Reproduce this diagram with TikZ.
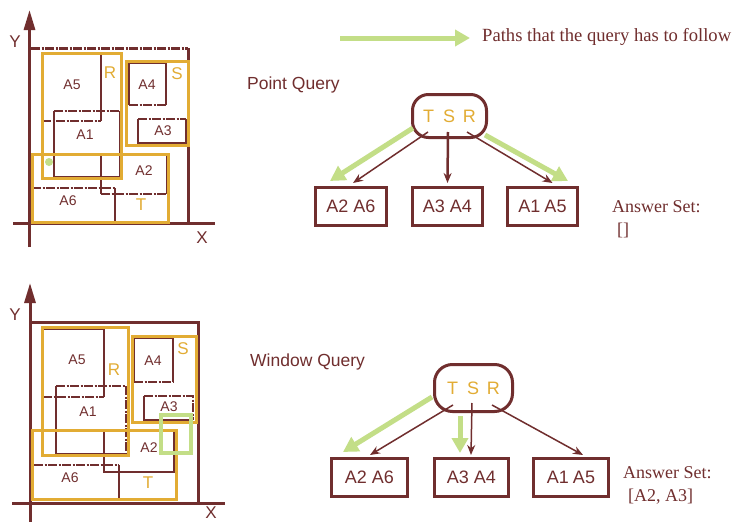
\documentclass[tikz,border=0pt]{standalone}
\usepackage{fontspec}
\setmainfont{Liberation Serif}
\setsansfont{Liberation Sans}
\usetikzlibrary{arrows.meta,calc}
\definecolor{maroon}{RGB}{112,46,46}
\definecolor{gold}{RGB}{226,172,52}
\definecolor{lgreen}{RGB}{195,222,135}
\tikzset{
  reg/.style={draw=maroon, line width=2pt},
  dd/.style={dash pattern=on 9pt off 1.5pt on 2pt off 1.5pt},
  mbr/.style={draw=gold, line width=3pt},
  axis/.style={draw=maroon, line width=3pt},
  axtip/.style={-{Triangle[length=20pt,width=11pt]}},
  lab/.style={text=maroon, inner sep=0pt, font=\sffamily\fontsize{14}{16}\selectfont},
  mlab/.style={text=gold, inner sep=0pt, font=\sffamily\fontsize{17}{19}\selectfont},
  axlab/.style={text=maroon, inner sep=0pt, font=\sffamily\fontsize{17}{19}\selectfont},
  qlab/.style={text=maroon, inner sep=0pt, anchor=west, font=\sffamily\fontsize{17.5}{19}\selectfont},
  serif/.style={text=maroon, inner sep=0pt, anchor=west, font=\rmfamily\fontsize{18}{20}\selectfont},
  tbox/.style={draw=maroon, line width=3pt, minimum height=38pt, inner sep=0pt,
               text=maroon, font=\sffamily\fontsize{18}{20}\selectfont},
  rootbox/.style={draw=maroon, line width=3pt, inner sep=0pt,
               text=gold, font=\sffamily\fontsize{18}{20}\selectfont},
  marr/.style={draw=maroon, line width=1.5pt, -{Stealth[length=10pt,width=8pt]}},
  garr/.style={draw=lgreen, line width=5pt, -{Triangle[length=15pt,width=16pt]}},
}
\begin{document}
\begin{tikzpicture}[x=1pt,y=-1pt]
\useasboundingbox (0,0) rectangle (732,522);
\fill[white] (0,0) rectangle (732,522);

% ---------------- legend ----------------
\coordinate (legA) at (340,38);
\coordinate (legB) at (470,38);
\draw[garr] (legA) -- (legB);
\node[serif, font=\rmfamily\fontsize{18.6}{20}\selectfont] (legtxt) at (482,37)
  {Paths that the query has to follow};

% ================= point query panel =================
% axes
\coordinate (tyA) at (29.5,247);
\coordinate (tyB) at (29.5,10);
\coordinate (txA) at (13,223.5);
\coordinate (txB) at (215,223.5);
\draw[axis,axtip] (tyA) -- (tyB);
\draw[axis] (txA) -- (txB);
\node[axlab] (tY) at (15,42) {Y};
\node[axlab] (tX) at (202,238) {X};
% data space
\draw[reg,line width=3pt,dd] (31,48) -- (188,48);
\draw[reg,line width=3pt] (188,48) -- (188,223.5);
% leaf regions
\draw[reg] (101,53) -- (101,121);
\draw[reg,dd] (42,121) -- (101,121);
\draw[reg,dd] (54,111) -- (120,111);
\draw[reg] (54,111) -- (54,177) -- (120,177) -- (120,111);
\draw[reg] (129,105) -- (129,63) -- (166,63) -- (166,105);
\draw[reg,dd] (129,105) -- (166,105);
\draw[reg,dd] (138,119) -- (186,119);
\draw[reg] (138,119) -- (138,143) -- (186,143) -- (186,119);
\draw[reg] (101,154) -- (101,194);
\draw[reg,dd] (101,194) -- (167,194);
\draw[reg] (101,154) -- (167,154) -- (167,194);
\draw[reg,dd] (32,188) -- (115,188);
\draw[reg] (115,188) -- (115,222);
% bounding rectangles R, S, T
\draw[mbr] (42,53) rectangle (121,178);
\draw[mbr] (126,61) rectangle (188,145);
\draw[mbr] (32,154) rectangle (168,222);
% query point
\fill[lgreen] (49,162) circle (4);
% labels
\node[lab] (pA5) at (72,85) {A5};
\node[lab] (pA1) at (85,135) {A1};
\node[lab] (pA4) at (147,85) {A4};
\node[lab] (pA3) at (163,131) {A3};
\node[lab] (pA2) at (144,171) {A2};
\node[lab] (pA6) at (68,201) {A6};
\node[mlab] (pR) at (110,73) {R};
\node[mlab] (pS) at (177,74) {S};
\node[mlab] (pT) at (141,205) {T};

% tree
\node[qlab] (pq) at (247,85) {Point Query};
\node[rootbox, minimum width=74pt, minimum height=43pt, rounded corners=16pt]
  (r1) at (449.5,116) {T\hspace{9pt}S\hspace{8pt}R};
\node[tbox, minimum width=71pt] (c1a) at (351,206.5) {A2 A6};
\node[tbox, minimum width=70pt] (c1b) at (447.5,206.5) {A3 A4};
\node[tbox, minimum width=70pt] (c1c) at (542.5,206.5) {A1\hspace{4pt}A5};
\draw[garr] ($(r1.center)+(-36.5,12)$) -- ($(c1a.north)+(-21,-5)$);
\draw[garr] ($(r1.center)+(35.5,19)$) -- ($(c1c.north)+(25.5,-5)$);
\draw[marr] ($(r1.center)+(-21.5,16)$) -- ($(c1a.north)+(2,-3)$);
\draw[marr,line width=2.5pt] ($(r1.center)+(-1.5,16)$) -- ($(c1b.north)+(0,-3)$);
\draw[marr] ($(r1.center)+(17.5,16)$) -- ($(c1c.north)+(10,-3)$);
\node[serif] (ans1) at (612,207) {Answer Set:};
\node[serif] (ans1v) at (617,230) {[]};

% ================= window query panel =================
\coordinate (byA) at (30,522);
\coordinate (byB) at (30,283);
\coordinate (bxA) at (12,503.5);
\coordinate (bxB) at (225,503.5);
\draw[axis,axtip] (byA) -- (byB);
\draw[axis] (bxA) -- (bxB);
\node[axlab] (bY) at (15,315) {Y};
\node[axlab] (bX) at (211,513) {X};
\draw[reg,line width=3pt] (31,322) -- (198,322) -- (198,503.5);
% leaf regions
\draw[reg] (43,397) -- (43,329) -- (104,329) -- (104,397);
\draw[reg,dd] (43,397) -- (104,397);
\draw[reg,dd] (56,386) -- (126,386);
\draw[reg] (56,386) -- (56,454) -- (126,454);
\draw[reg,dd] (126,386) -- (126,454);
\draw[reg] (134,382) -- (134,338) -- (173,338) -- (173,382);
\draw[reg,dd] (134,382) -- (173,382);
\draw[reg,dd] (144,396) -- (193,396) -- (193,420);
\draw[reg] (144,396) -- (144,420) -- (193,420);
\draw[reg] (104,432) -- (104,472) -- (174,472) -- (174,432);
\draw[reg,dd] (34,465) -- (119,465);
\draw[reg] (119,465) -- (119,499) -- (34,499);
% bounding rectangles R, S, T
\draw[mbr] (42,327) rectangle (128,455);
\draw[mbr] (132,336) rectangle (196,422);
\draw[mbr] (32,430) rectangle (176,499);
% query window
\draw[draw=lgreen, line width=4pt] (161,415) rectangle (191,453);
% labels
\node[lab] (wA5) at (77,360) {A5};
\node[lab] (wA1) at (88,412) {A1};
\node[lab] (wA4) at (153,361) {A4};
\node[lab] (wA3) at (169,407) {A3};
\node[lab] (wA2) at (149,448) {A2};
\node[lab] (wA6) at (70,478) {A6};
\node[mlab] (wR) at (114,370) {R};
\node[mlab] (wS) at (183,349) {S};
\node[mlab] (wT) at (148,483) {T};

% tree
\node[qlab] (wq) at (250,362) {Window Query};
\node[rootbox, minimum width=78pt, minimum height=47pt, rounded corners=18pt]
  (r2) at (473.5,388) {T\hspace{9pt}S\hspace{8pt}R};
\node[tbox, minimum width=76pt] (c2a) at (369.5,477.5) {A2 A6};
\node[tbox, minimum width=74pt] (c2b) at (471.5,477.5) {A3 A4};
\node[tbox, minimum width=75pt] (c2c) at (571,477.5) {A1\hspace{4pt}A5};
\draw[garr] ($(r2.center)+(-41.5,9)$) -- ($(c2a.north)+(-26.5,-5)$);
\draw[garr] ($(r2.center)+(-13.5,28)$) -- ($(c2b.north)+(-11.5,-4)$);
\draw[marr] ($(r2.center)+(-20.5,17)$) -- ($(c2a.north)+(0.5,-2)$);
\draw[marr] ($(r2.center)+(-1.5,15)$) -- ($(c2b.north)+(-0.5,-2)$);
\draw[marr] ($(r2.center)+(18.5,17)$) -- ($(c2c.north)+(12,-2)$);
\node[serif] (ans2) at (623,473) {Answer Set:};
\node[serif] (ans2v) at (628,497) {[A2, A3]};
\end{tikzpicture}
\end{document}
